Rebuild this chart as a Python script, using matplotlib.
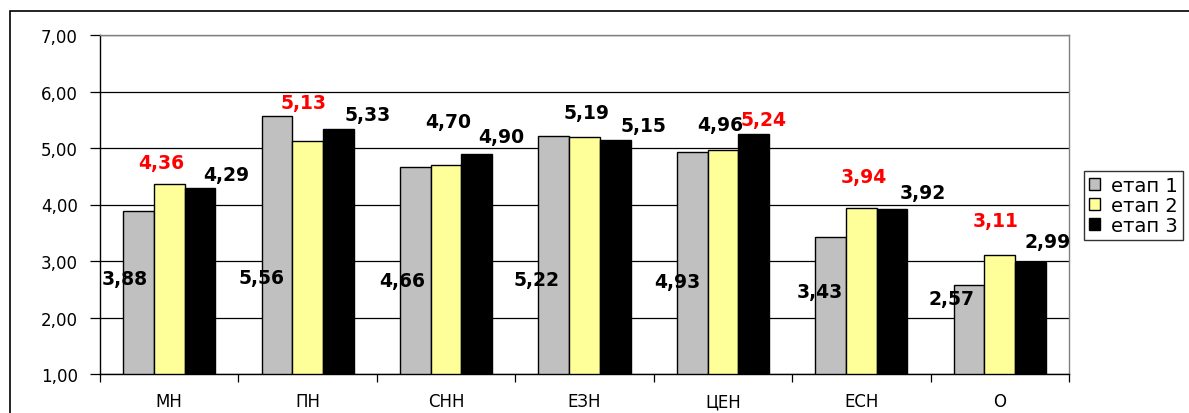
import matplotlib
matplotlib.use("Agg")
import matplotlib.pyplot as plt
from matplotlib.patches import Rectangle
import numpy as np

categories = ["МН", "ПН", "СНН", "ЕЗН", "ЦЕН", "ЕСН", "О"]
etap1 = [3.88, 5.56, 4.66, 5.22, 4.93, 3.43, 2.57]
etap2 = [4.36, 5.13, 4.70, 5.19, 4.96, 3.94, 3.11]
etap3 = [4.29, 5.33, 4.90, 5.15, 5.24, 3.92, 2.99]
series_names = ["етап 1", "етап 2", "етап 3"]

# which value labels are shown in red
red1 = [False] * 7
red2 = [True, True, False, False, False, True, True]
red3 = [False, False, False, False, True, False, False]

# label offsets from bar top, pixels (dx, dy)
off1 = [(-14, -67), (-15, -161), (-13, -113), (-17, -144), (-15, -130), (-11, -55), (-18, -13)]
off2 = [(-8, 22), (-4, 38), (2, 43), (2, 25), (-3, 26), (2, 31), (-4, 34)]
off3 = [(26, 14), (29, 15), (24, 17), (28, 14), (10, 15), (31, 17), (17, 20)]

colors = ["#C0C0C0", "#FFFF99", "#000000"]
font = "DejaVu Sans"

fig = plt.figure(figsize=(11.89, 4.14), dpi=100)
ax = fig.add_axes([100 / 1189, 39 / 414, 969 / 1189, 339 / 414])

x = np.arange(len(categories))
w = 0.222
series = [etap1, etap2, etap3]
reds = [red1, red2, red3]
offs = [off1, off2, off3]

for i, vals in enumerate(series):
    pos = x + (i - 1) * w
    ax.bar(pos, [v - 1 for v in vals], bottom=1, width=w, color=colors[i],
           edgecolor="black", linewidth=1, label=series_names[i], zorder=3)
    for p, v, r, o in zip(pos, vals, reds[i], offs[i]):
        ax.annotate(f"{v:.2f}".replace(".", ","), (p, v), xytext=o,
                    textcoords="offset pixels", ha="center", va="center",
                    fontsize=13.5, fontweight="bold", family=font,
                    color="#FF0000" if r else "black", zorder=5,
                    annotation_clip=False, clip_on=True)

ax.set_xlim(-0.5, len(categories) - 0.5)
ax.set_ylim(1, 7)
ax.set_yticks(range(1, 8))
ax.set_yticklabels([f"{t},00" for t in range(1, 8)], family=font, fontsize=12)
ax.yaxis.grid(True, color="black", linewidth=0.9, zorder=0)
ax.set_axisbelow(True)

ax.set_xticks(x)
ax.set_xticklabels(categories, family=font, fontsize=12)
ax.set_xticks(np.arange(-0.5, len(categories)), minor=True)
ax.tick_params(axis="x", which="major", length=0, pad=13)
ax.tick_params(axis="x", which="minor", length=6, width=0.9, direction="out")
ax.tick_params(axis="y", length=7, width=0.9, pad=9)

ax.spines["left"].set_color("black")
ax.spines["bottom"].set_color("black")
ax.spines["top"].set_color("#808080")
ax.spines["right"].set_color("#808080")
for s in ax.spines.values():
    s.set_linewidth(1)

leg = fig.legend(loc="upper left", bbox_to_anchor=(1084 / 1189, 1 - 172 / 414),
                 frameon=True, fancybox=False, edgecolor="black",
                 prop={"family": font, "size": 14}, handlelength=0.55,
                 handleheight=0.55, handletextpad=0.6, labelspacing=0.05,
                 borderpad=0.25, borderaxespad=0)
leg.get_frame().set_linewidth(1)

fig.patches.append(Rectangle((10 / 1189, -0.1), 1.2, 1.1 - 12 / 414,
                             transform=fig.transFigure, fill=False,
                             edgecolor="black", linewidth=1.2))

fig.savefig("out.png", dpi=100)
